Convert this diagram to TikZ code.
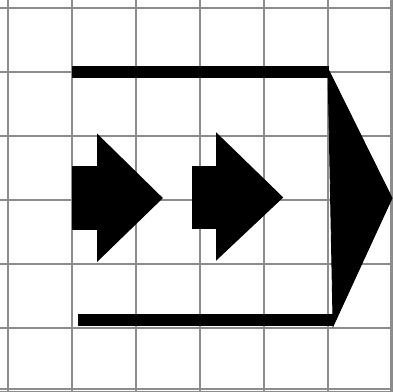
\documentclass[tikz,border=0pt]{standalone}
\begin{document}
\begin{tikzpicture}[x=1cm,y=1cm,
  gridline/.style={draw=black!45, line width=0.9pt},
  thickbar/.style={draw=black, line width=5.4pt},
  solidfill/.style={fill=black, draw=black, line width=0.4pt, line join=miter}]
\useasboundingbox (-0.125,0) rectangle (6,6.125);
\fill[white] (-0.125,0) rectangle (6,6.125);
% grid
\foreach \i in {0,...,6} {
  \draw[gridline] (\i,0) -- (\i,6.125);
  \draw[gridline] (-0.125,\i) -- (6,\i);
}
\draw[gridline] (5.98,0) -- (5.98,6.125);
\draw[gridline] (-0.125,0.04) -- (6,0.04);
% big outline arrow
\coordinate (tl) at (1.0,5.0);
\coordinate (tr) at (5.02,5.0);
\coordinate (bl) at (1.09,1.12);
\coordinate (br) at (5.08,1.12);
\draw[thickbar] (tl) -- (tr);
\draw[thickbar] (bl) -- (br);
\coordinate (ttop) at (5.0,5.05);
\coordinate (ttip) at (6.0,3.03);
\coordinate (tbot) at (5.08,1.03);
\fill[solidfill] (ttop) -- (ttip) -- (tbot) -- cycle;
% arrow 1
\fill[solidfill] (1.0,2.54) rectangle (1.42,3.52);
\fill[solidfill] (1.40,4.02) -- (2.41,3.03) -- (1.40,2.05) -- cycle;
% arrow 2
\fill[solidfill] (2.875,2.55) rectangle (3.28,3.52);
\fill[solidfill] (3.26,4.04) -- (4.29,3.04) -- (3.26,2.07) -- cycle;
\end{tikzpicture}
\end{document}
